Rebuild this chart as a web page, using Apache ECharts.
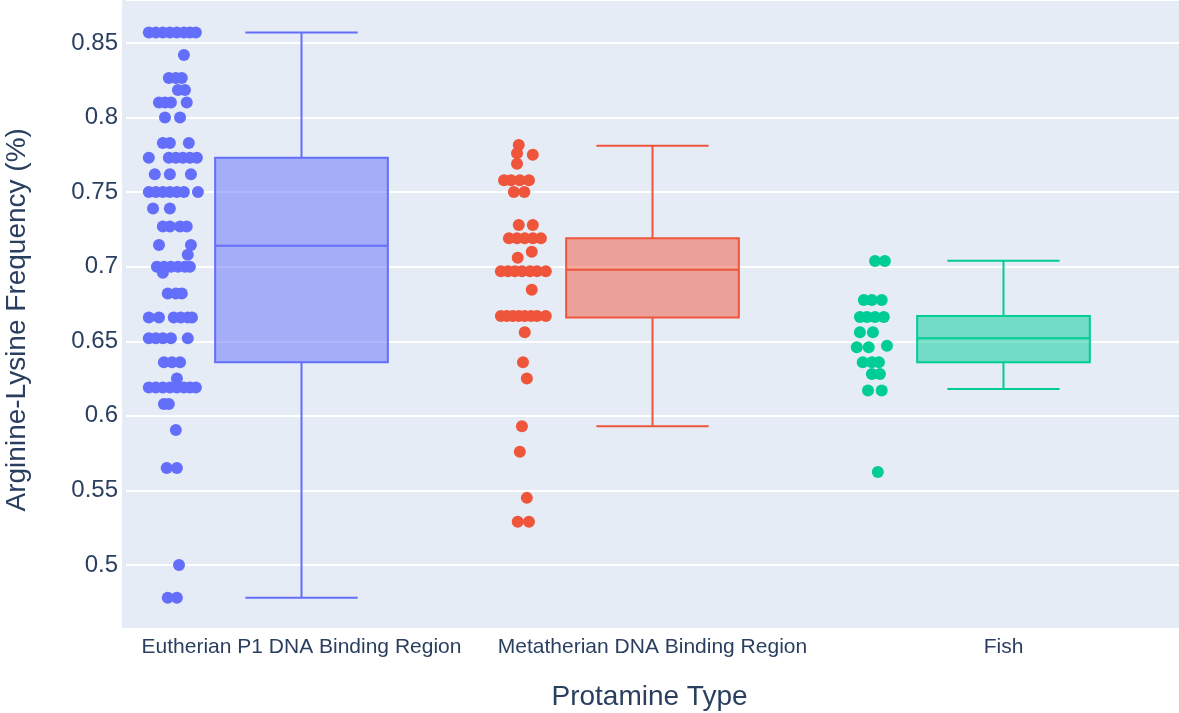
<!DOCTYPE html>
<html>
<head>
<meta charset="utf-8">
<script src="https://cdn.jsdelivr.net/npm/echarts@6/dist/echarts.min.js"></script>
<style>
  html, body { margin: 0; padding: 0; background: #ffffff; }
  #chart { width: 1179px; height: 713px; }
</style>
</head>
<body>
<div id="chart"></div>
<script>
// ---- Data ----
const categories = ['Eutherian P1 DNA Binding Region', 'Metatherian DNA Binding Region', 'Fish'];
const colors = ['#636EFA', '#EF553B', '#00CC96'];
const fills = ['rgba(99,110,250,0.5)', 'rgba(239,85,59,0.5)', 'rgba(0,204,150,0.5)'];

// box statistics: [lower whisker, Q1, median, Q3, upper whisker]
const eutherianBox   = [0.478, 0.636, 0.714, 0.773, 0.857];
const metatherianBox = [0.593, 0.666, 0.698, 0.719, 0.781];
const fishBox        = [0.618, 0.636, 0.652, 0.667, 0.704];

// individual points: [value, jitter (fraction of category width)]
const eutherianPoints = [
  [0.857,-0.07],[0.857,-0.05],[0.857,-0.03],[0.857,-0.01],[0.857,0.01],[0.857,0.03],[0.857,0.047],[0.857,0.064],
  [0.842,0.03],
  [0.8265,-0.013],[0.8265,0.007],[0.8265,0.024],
  [0.8185,0.013],[0.8185,0.033],
  [0.81,-0.041],[0.81,-0.024],[0.81,-0.007],[0.81,0.038],
  [0.80,-0.024],[0.80,0.019],
  [0.783,-0.03],[0.783,-0.01],[0.783,0.044],
  [0.773,-0.07],[0.773,-0.013],[0.773,0.007],[0.773,0.027],[0.773,0.047],[0.773,0.067],
  [0.762,-0.053],[0.762,-0.01],[0.762,0.05],
  [0.75,-0.07],[0.75,-0.05],[0.75,-0.03],[0.75,-0.01],[0.75,0.01],[0.75,0.03],[0.75,0.07],
  [0.739,-0.058],[0.739,-0.01],
  [0.727,-0.03],[0.727,-0.01],[0.727,0.019],[0.727,0.038],
  [0.7145,-0.041],[0.7145,0.05],
  [0.708,0.041],
  [0.70,-0.047],[0.70,-0.027],[0.70,-0.007],[0.70,0.013],[0.70,0.033],[0.70,0.047],
  [0.696,-0.03],
  [0.682,-0.016],[0.682,0.007],[0.682,0.024],
  [0.666,-0.07],[0.666,-0.041],[0.666,0.001],[0.666,0.021],[0.666,0.041],[0.666,0.053],
  [0.652,-0.07],[0.652,-0.05],[0.652,-0.03],[0.652,-0.007],[0.652,0.041],
  [0.636,-0.027],[0.636,-0.004],[0.636,0.019],
  [0.625,0.01],
  [0.619,-0.07],[0.619,-0.05],[0.619,-0.03],[0.619,-0.01],[0.619,0.01],[0.619,0.03],[0.619,0.047],[0.619,0.064],
  [0.608,-0.027],[0.608,-0.013],
  [0.5905,0.007],
  [0.565,-0.019],[0.565,0.01],
  [0.5,0.016],
  [0.478,-0.016],[0.478,0.01]
];
const metatherianPoints = [
  [0.7816,-0.016],[0.776,-0.021],[0.775,0.024],[0.769,-0.021],
  [0.758,-0.058],[0.758,-0.038],[0.758,-0.013],[0.758,0.013],
  [0.75,-0.03],[0.75,0.0],
  [0.728,-0.016],[0.728,0.024],
  [0.719,-0.044],[0.719,-0.021],[0.719,0.001],[0.719,0.024],[0.719,0.047],
  [0.706,-0.019],[0.710,0.021],
  [0.697,-0.067],[0.697,-0.047],[0.697,-0.027],[0.697,-0.007],[0.697,0.016],[0.697,0.036],[0.697,0.061],
  [0.6845,0.021],
  [0.667,-0.067],[0.667,-0.05],[0.667,-0.033],[0.667,-0.016],[0.667,0.001],[0.667,0.019],[0.667,0.036],[0.667,0.061],
  [0.656,0.001],[0.636,-0.004],[0.625,0.007],[0.593,-0.007],[0.576,-0.013],[0.545,0.007],
  [0.529,-0.019],[0.529,0.013]
];
const fishPoints = [
  [0.7038,-0.001],[0.7038,0.027],
  [0.6777,-0.033],[0.6777,-0.01],[0.6777,0.018],
  [0.6663,-0.044],[0.6663,-0.024],[0.6663,-0.001],[0.6663,0.024],
  [0.656,-0.044],[0.656,-0.007],
  [0.646,-0.053],[0.646,-0.019],[0.647,0.033],
  [0.636,-0.036],[0.636,-0.01],[0.636,0.01],
  [0.628,-0.01],[0.628,0.013],
  [0.617,-0.021],[0.617,0.018],
  [0.5624,0.007]
];

// ---- Styling constants ----
const TEXT = '#2a3f5f';
const FONT = 'Liberation Sans';
const POINT_POS = -0.365;   // point cloud offset from box centre (category widths)
const BOX_HALF = 0.246;     // half box width (category widths)
const CAP_HALF = 0.16;      // half whisker-cap width

const boxes = [eutherianBox, metatherianBox, fishBox];
const pointSets = [eutherianPoints, metatherianPoints, fishPoints];

function renderBox(params, api) {
  const i = api.value(0);
  const pMin = api.coord([i, api.value(1)]);
  const pQ1  = api.coord([i, api.value(2)]);
  const pMed = api.coord([i, api.value(3)]);
  const pQ3  = api.coord([i, api.value(4)]);
  const pMax = api.coord([i, api.value(5)]);
  const unit = api.size([1, 0])[0];
  const hw = unit * BOX_HALF, cw = unit * CAP_HALF;
  const x = pMed[0];
  const stroke = { stroke: colors[i], lineWidth: 2, fill: null };
  return {
    type: 'group',
    children: [
      { type: 'line', shape: { x1: x, y1: pQ3[1], x2: x, y2: pMax[1] }, style: stroke },
      { type: 'line', shape: { x1: x, y1: pQ1[1], x2: x, y2: pMin[1] }, style: stroke },
      { type: 'line', shape: { x1: x - cw, y1: pMax[1], x2: x + cw, y2: pMax[1] }, style: stroke },
      { type: 'line', shape: { x1: x - cw, y1: pMin[1], x2: x + cw, y2: pMin[1] }, style: stroke },
      { type: 'rect', shape: { x: x - hw, y: pQ3[1], width: 2 * hw, height: pQ1[1] - pQ3[1] },
        style: { fill: fills[i], stroke: colors[i], lineWidth: 2 } },
      { type: 'line', shape: { x1: x - hw, y1: pMed[1], x2: x + hw, y2: pMed[1] }, style: stroke }
    ]
  };
}

const chart = echarts.init(document.getElementById('chart'), null, { renderer: 'canvas' });

const scatterSeries = pointSets.map((pts, i) => ({
  type: 'scatter',
  name: categories[i],
  xAxisIndex: 1,
  yAxisIndex: 0,
  symbol: 'circle',
  symbolSize: 12,
  itemStyle: { color: colors[i], opacity: 1 },
  silent: true,
  z: 3,
  data: pts.map(p => [i + POINT_POS + p[1], p[0]])
}));

chart.setOption({
  animation: false,
  backgroundColor: '#ffffff',
  textStyle: { fontFamily: FONT },
  graphic: [{
    type: 'rect', z: -100, silent: true,
    shape: { x: 122, y: 0, width: 1060, height: 628 },
    style: { fill: '#E5ECF6' }
  }],
  grid: { left: 126, right: 0, top: 0, bottom: 73.43, containLabel: false, outerBoundsMode: 'none' },
  xAxis: [
    {
      type: 'category',
      data: categories,
      boundaryGap: true,
      axisLine: { show: false },
      axisTick: { show: false },
      splitLine: { show: false },
      axisLabel: { color: TEXT, fontSize: 21, fontFamily: FONT, margin: -3, interval: 0 },
      name: 'Protamine Type',
      nameLocation: 'middle',
      nameGap: 44,
      nameTextStyle: { color: TEXT, fontSize: 28, fontFamily: FONT, padding: [0, 6, 0, 0] }
    },
    { type: 'value', min: -0.5, max: 2.5, show: false }
  ],
  yAxis: [{
    type: 'value',
    min: 0.45, max: 0.8788, interval: 0.05,
    axisLine: { show: false },
    axisTick: { show: false },
    splitLine: { lineStyle: { color: '#ffffff', width: 2 } },
    axisLabel: {
      color: TEXT, fontSize: 24, fontFamily: FONT, margin: 8,
      showMinLabel: false, showMaxLabel: false,
      formatter: v => String(+(+v).toFixed(2))
    },
    name: 'Arginine-Lysine Frequency (%)',
    nameLocation: 'middle',
    nameRotate: 90,
    nameGap: 95,
    nameTextStyle: { color: TEXT, fontSize: 28, fontFamily: FONT }
  }],
  series: [
    {
      type: 'custom',
      xAxisIndex: 1,
      yAxisIndex: 0,
      renderItem: renderBox,
      silent: true,
      z: 2,
      data: boxes.map((b, i) => [i].concat(b))
    }
  ].concat(scatterSeries)
});
</script>
</body>
</html>
